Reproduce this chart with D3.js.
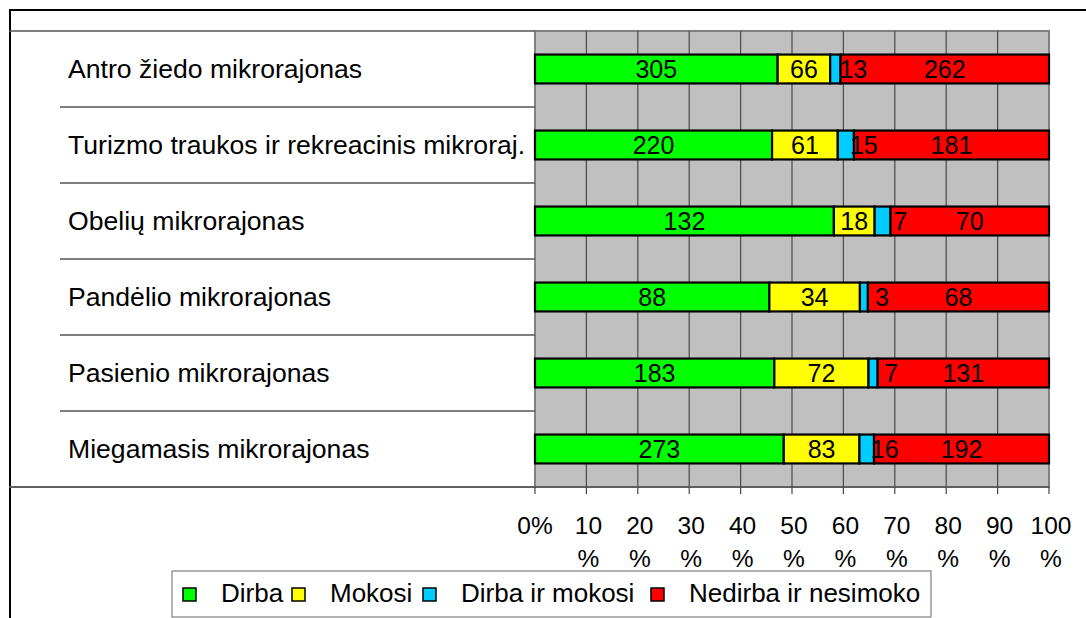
<!DOCTYPE html>
<html>
<head>
<meta charset="utf-8">
<script src="https://cdn.jsdelivr.net/npm/d3@7"></script>
<style>
  body { margin: 0; background: #fff; }
  svg { display: block; font-family: "Liberation Sans", Arial, sans-serif; }
</style>
</head>
<body>
<div id="chart"></div>
<script>
// data
var categories = [
  'Antro žiedo mikrorajonas',
  'Turizmo traukos ir rekreacinis mikroraj.',
  'Obelių mikrorajonas',
  'Pandėlio mikrorajonas',
  'Pasienio mikrorajonas',
  'Miegamasis mikrorajonas'
];
var seriesNames = ['Dirba', 'Mokosi', 'Dirba ir mokosi', 'Nedirba ir nesimoko'];
var dirba = [305, 220, 132, 88, 183, 273];
var mokosi = [66, 61, 18, 34, 72, 83];
var dirbaIrMokosi = [13, 15, 7, 3, 7, 16];
var nedirba = [262, 181, 70, 68, 131, 192];
var tickValues = [0, 10, 20, 30, 40, 50, 60, 70, 80, 90, 100];
var colors = ['#00ff00', '#ffff00', '#00ccff', '#ff0000'];

var W = 1086, H = 618;
var plot = { left: 535, right: 1049, top: 31, bottom: 487 };

var svg = d3.select('#chart').append('svg')
  .attr('width', W).attr('height', H);

var x = d3.scaleLinear().domain([0, 100]).range([plot.left, plot.right]);
var y = d3.scaleBand().domain(categories).range([plot.top, plot.bottom]).padding(0);
var barH = y.bandwidth() * 0.38;

// outer frame
svg.append('line').attr('x1', 9).attr('x2', W).attr('y1', 10).attr('y2', 10)
  .attr('stroke', '#000').attr('stroke-width', 2);
svg.append('line').attr('x1', 10).attr('x2', 10).attr('y1', 9).attr('y2', H)
  .attr('stroke', '#000').attr('stroke-width', 2);

// plot background + grid
svg.append('rect')
  .attr('x', plot.left).attr('y', plot.top)
  .attr('width', plot.right - plot.left).attr('height', plot.bottom - plot.top)
  .attr('fill', '#c0c0c0').attr('stroke', '#808080').attr('stroke-width', 2);

svg.append('g').selectAll('line')
  .data(tickValues.slice(1, -1))
  .join('line')
  .attr('x1', function(d) { return x(d); }).attr('x2', function(d) { return x(d); })
  .attr('y1', plot.top).attr('y2', plot.bottom)
  .attr('stroke', '#4a4a4a').attr('stroke-width', 1.2);

// category table lines
svg.append('g').selectAll('line')
  .data([plot.top, plot.bottom])
  .join('line')
  .attr('x1', 9).attr('x2', plot.left)
  .attr('y1', function(d) { return d; }).attr('y2', function(d) { return d; })
  .attr('stroke', '#555').attr('stroke-width', 1.5);

svg.append('g').selectAll('line')
  .data(categories.slice(1))
  .join('line')
  .attr('x1', 60).attr('x2', plot.left)
  .attr('y1', function(d) { return y(d); }).attr('y2', function(d) { return y(d); })
  .attr('stroke', '#555').attr('stroke-width', 1.5);

// category labels
svg.append('g').selectAll('text')
  .data(categories)
  .join('text')
  .attr('x', 68)
  .attr('y', function(d) { return y(d) + y.bandwidth() / 2 + 9; })
  .attr('font-size', 26.6)
  .attr('fill', '#000')
  .text(function(d) { return d; });

// stacked bars (100%)
var rows = categories.map(function(c, i) {
  var vals = [dirba[i], mokosi[i], dirbaIrMokosi[i], nedirba[i]];
  var total = d3.sum(vals);
  var acc = 0;
  return vals.map(function(v, j) {
    var seg = { cat: c, k: j, value: v, x0: acc / total * 100, x1: (acc + v) / total * 100 };
    acc += v;
    return seg;
  });
});
var segs = d3.merge(rows);

var barG = svg.append('g');
barG.selectAll('rect')
  .data(segs)
  .join('rect')
  .attr('x', function(d) { return x(d.x0); })
  .attr('y', function(d) { return y(d.cat) + (y.bandwidth() - barH) / 2; })
  .attr('width', function(d) { return x(d.x1) - x(d.x0); })
  .attr('height', barH)
  .attr('fill', function(d) { return colors[d.k]; })
  .attr('stroke', '#000').attr('stroke-width', 2.2);

barG.selectAll('text')
  .data(segs)
  .join('text')
  .attr('x', function(d) {
    var cx = (x(d.x0) + x(d.x1)) / 2;
    return d.k === 2 ? cx + 18 : cx;
  })
  .attr('y', function(d) { return y(d.cat) + y.bandwidth() / 2 + 9; })
  .attr('text-anchor', 'middle')
  .attr('font-size', 25)
  .attr('fill', '#000')
  .text(function(d) { return d.value; });

// x axis ticks and two-line labels
var axG = svg.append('g');
axG.append('line').attr('x1', 9).attr('x2', plot.right)
  .attr('y1', plot.bottom).attr('y2', plot.bottom)
  .attr('stroke', '#555').attr('stroke-width', 1.5);
axG.selectAll('line.tick')
  .data(tickValues)
  .join('line')
  .attr('class', 'tick')
  .attr('x1', function(d) { return x(d); }).attr('x2', function(d) { return x(d); })
  .attr('y1', plot.bottom).attr('y2', plot.bottom + 7)
  .attr('stroke', '#444').attr('stroke-width', 1.2);

var tl = axG.selectAll('text')
  .data(tickValues)
  .join('text')
  .attr('text-anchor', 'middle')
  .attr('font-size', 24.5)
  .attr('fill', '#000');
tl.each(function(d) {
  var t = d3.select(this);
  if (d === 0) {
    t.append('tspan').attr('x', x(d)).attr('y', 534).text('0%');
  } else {
    t.append('tspan').attr('x', x(d) + 2).attr('y', 534).text(d);
    t.append('tspan').attr('x', x(d) + 2).attr('y', 567).text('%');
  }
});

// legend
var lg = svg.append('g');
lg.append('rect').attr('x', 172).attr('y', 571).attr('width', 759).attr('height', 46)
  .attr('fill', '#fff').attr('stroke', '#808080').attr('stroke-width', 1.2);
var legendX = [183, 292, 423, 651];
var li = lg.selectAll('g.item')
  .data(seriesNames)
  .join('g')
  .attr('class', 'item')
  .attr('transform', function(d, i) { return 'translate(' + legendX[i] + ',588)'; });
li.append('rect').attr('width', 13).attr('height', 13)
  .attr('fill', function(d, i) { return colors[i]; })
  .attr('stroke', '#000').attr('stroke-width', 1.5);
li.append('text').attr('x', 38).attr('y', 14)
  .attr('font-size', 26).attr('fill', '#000')
  .text(function(d) { return d; });
</script>
</body>
</html>
